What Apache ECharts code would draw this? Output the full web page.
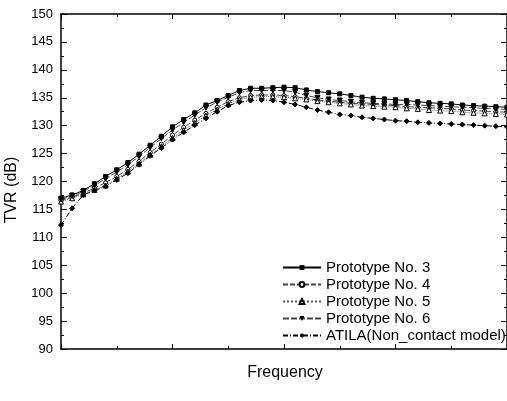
<!DOCTYPE html>
<html>
<head>
<meta charset="utf-8">
<script src="https://cdn.jsdelivr.net/npm/echarts@6/dist/echarts.min.js"></script>
<style>
  html, body { margin: 0; padding: 0; background: #fff; }
  #chart { width: 507px; height: 401px; }
</style>
</head>
<body>
<div id="chart"></div>
<script>
// frequency steps (axis has no numeric labels)
var freq = [0,1,2,3,4,5,6,7,8,9,10,11,12,13,14,15,16,17,18,19,20,
            21,22,23,24,25,26,27,28,29,30,31,32,33,34,35,36,37,38,39,40];

var proto3 = [117.0,117.6,118.4,119.6,120.9,122.1,123.4,124.9,126.5,128.1,129.8,
              131.1,132.3,133.7,134.5,135.4,136.3,136.7,136.7,136.8,136.9,
              136.8,136.4,136.1,135.9,135.7,135.4,135.1,134.9,134.8,134.65,
              134.5,134.3,134.1,134.0,133.9,133.7,133.6,133.5,133.4,133.3];
var proto4 = [116.6,117.2,117.9,118.8,119.8,120.9,122.2,123.6,125.2,126.7,128.3,
              129.7,131.0,132.2,133.3,134.3,135.0,135.4,135.5,135.5,135.4,
              135.2,134.9,134.6,134.4,134.2,134.0,133.9,133.8,133.7,133.6,
              133.4,133.3,133.2,133.1,133.0,132.8,132.7,132.6,132.5,132.4];
var proto5 = [116.4,117.0,117.7,118.5,119.3,120.5,121.8,123.2,124.8,126.3,127.8,
              129.2,130.5,131.8,132.9,133.9,134.7,135.1,135.2,135.2,135.1,
              134.9,134.7,134.4,134.2,134.0,133.8,133.6,133.5,133.4,133.3,
              133.1,133.0,132.8,132.7,132.6,132.4,132.3,132.2,132.1,132.0];
var proto6 = [116.8,117.4,118.2,119.3,120.5,121.7,123.0,124.5,126.1,127.7,129.2,
              130.6,131.9,133.2,134.2,135.1,135.9,136.3,136.3,136.3,136.3,
              136.0,135.4,135.0,134.7,134.5,134.3,134.1,134.0,133.9,133.8,
              133.8,133.7,133.6,133.5,133.4,133.3,133.2,133.1,133.0,132.9];
var atila  = [112.2,115.2,117.6,118.4,119.1,120.3,121.5,123.0,124.6,126.0,127.5,
              128.8,130.1,131.3,132.5,133.6,134.2,134.5,134.6,134.5,134.2,
              133.8,133.3,132.8,132.4,132.0,131.8,131.5,131.3,131.1,130.9,
              130.8,130.6,130.5,130.4,130.3,130.2,130.1,130.0,129.9,129.8];

var seriesNames = ['Prototype No. 3','Prototype No. 4','Prototype No. 5','Prototype No. 6','ATILA(Non_contact model)'];

function pairs(vals) {
  return freq.map(function (f, i) { return [f, vals[i]]; });
}

var chart = echarts.init(document.getElementById('chart'));

var font = 'Liberation Sans, Arial, sans-serif';

var baseX = {
  type: 'value', min: 0, max: 40, interval: 10,
  axisLine: { show: true, onZero: false, lineStyle: { color: '#000', width: 1.5 } },
  axisTick: { show: true, inside: true, length: 5, lineStyle: { color: '#000' } },
  minorTick: { show: true, splitNumber: 2, length: 3, lineStyle: { color: '#000' } },
  axisLabel: { show: false },
  splitLine: { show: false }
};
var baseY = {
  type: 'value', min: 90, max: 150, interval: 5,
  axisLine: { show: true, onZero: false, lineStyle: { color: '#000', width: 1.5 } },
  axisTick: { show: true, inside: true, length: 6, lineStyle: { color: '#000' } },
  minorTick: { show: true, splitNumber: 2, length: 3, lineStyle: { color: '#000' } },
  splitLine: { show: false }
};

var option = {
  animation: false,
  backgroundColor: '#fff',
  textStyle: { fontFamily: font },
  grid: { left: 61, top: 14, right: -2, bottom: 52 },
  legend: {
    orient: 'vertical',
    left: 282, top: 260, padding: 0,
    itemWidth: 38, itemHeight: 6, itemGap: 2,
    textStyle: { fontSize: 15, lineHeight: 15, color: '#000', fontFamily: font },
    data: seriesNames
  },
  // axis titles
  graphic: [
    {
      type: 'text', x: 12, y: 190, rotation: Math.PI / 2,
      style: { text: 'TVR (dB)', fontSize: 16, fontFamily: font, fill: '#000',
               align: 'center', verticalAlign: 'middle' }
    },
    {
      type: 'text', x: 285, y: 373,
      style: { text: 'Frequency', fontSize: 16, fontFamily: font, fill: '#000',
               align: 'center', verticalAlign: 'middle' }
    }
  ],
  xAxis: [
    Object.assign({}, baseX, { position: 'bottom' }),
    Object.assign({}, baseX, { position: 'top' })
  ],
  yAxis: [
    Object.assign({}, baseY, {
      position: 'left',
      axisLabel: { show: true, fontSize: 13, color: '#000', margin: 8, fontFamily: font }
    }),
    Object.assign({}, baseY, { position: 'right', axisLabel: { show: false } })
  ],
  series: [
    {
      name: seriesNames[0], type: 'line', data: pairs(proto3),
      symbol: 'rect', symbolSize: 4,
      lineStyle: { color: '#000', width: 1, type: 'solid' },
      itemStyle: { color: '#000', borderColor: '#000' }
    },
    {
      name: seriesNames[1], type: 'line', data: pairs(proto4),
      symbol: 'circle', symbolSize: 4,
      lineStyle: { color: '#444', width: 1, type: [5, 2] },
      itemStyle: { color: '#fff', borderColor: '#000', borderWidth: 1 }
    },
    {
      name: seriesNames[2], type: 'line', data: pairs(proto5),
      symbol: 'triangle', symbolSize: 5,
      lineStyle: { color: '#555', width: 1, type: 'dotted' },
      itemStyle: { color: '#fff', borderColor: '#000', borderWidth: 1 }
    },
    {
      name: seriesNames[3], type: 'line', data: pairs(proto6),
      symbol: 'triangle', symbolRotate: 180, symbolSize: 5,
      lineStyle: { color: '#444', width: 1, type: [6, 2] },
      itemStyle: { color: '#000', borderColor: '#000' }
    },
    {
      name: seriesNames[4], type: 'line', data: pairs(atila),
      symbol: 'diamond', symbolSize: 5,
      lineStyle: { color: '#000', width: 1, type: [5, 2, 1, 2] },
      itemStyle: { color: '#000', borderColor: '#000' }
    }
  ]
};

chart.setOption(option);
</script>
</body>
</html>
